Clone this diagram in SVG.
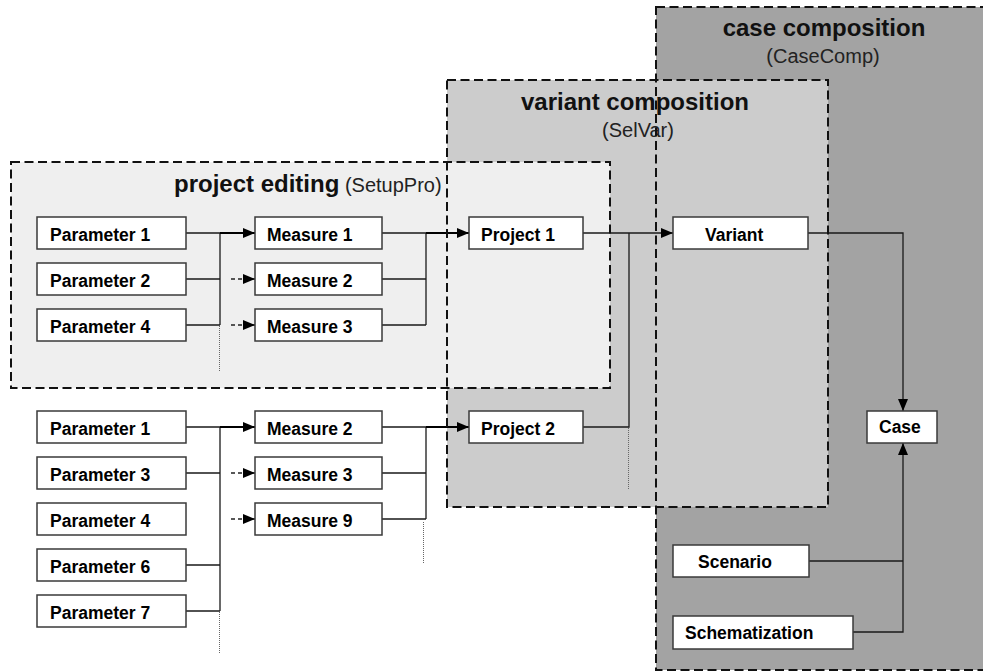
<svg xmlns="http://www.w3.org/2000/svg" width="983" height="671" viewBox="0 0 983 671">
  <defs>
    <style>
      .lbl { font-family: "Liberation Sans", Arial, sans-serif; font-weight: bold; font-size: 17.5px; fill: #000; }
      .title { font-family: "Liberation Sans", Arial, sans-serif; font-weight: bold; font-size: 24px; fill: #111; }
      .sub { font-family: "Liberation Sans", Arial, sans-serif; font-weight: normal; font-size: 20px; fill: #222; }
      .node rect { fill: #fff; stroke: #3a3a3a; stroke-width: 1.5; }
      .border { fill: none; stroke: #111; stroke-width: 2; stroke-dasharray: 9 4.5; }
      .wire { fill: none; stroke: #1a1a1a; stroke-width: 1.3; }
      .feed { fill: none; stroke: #000; stroke-width: 1.8; }
      .opt { fill: none; stroke: #222; stroke-width: 1.3; stroke-dasharray: 4 3; }
      .dot { fill: none; stroke: #666; stroke-width: 1; stroke-dasharray: 1 1; }
    </style>
    <marker id="arrow" viewBox="0 0 12 10" refX="12" refY="5" markerWidth="12" markerHeight="10" markerUnits="userSpaceOnUse" orient="auto">
      <path d="M0,0 L12,5 L0,10 Z" fill="#000"/>
    </marker>
  </defs>

  <!-- stage backgrounds, back to front -->
  <g id="stage-fills">
    <rect x="656" y="7" width="340" height="663" fill="#a3a3a3"/>
    <rect x="447" y="80" width="381" height="427" fill="#cccccc"/>
    <rect x="11" y="162" width="599" height="226" fill="#efefef"/>
  </g>

  <!-- stage titles -->
  <g id="stage-titles">
    <text class="title" x="824" y="36" text-anchor="middle">case composition</text>
    <text class="sub" x="823" y="63" text-anchor="middle">(CaseComp)</text>
    <text class="title" x="635" y="110" text-anchor="middle">variant composition</text>
    <text class="sub" x="638" y="137" text-anchor="middle">(SelVar)</text>
    <text x="174" y="192"><tspan class="title">project editing</tspan><tspan class="sub"> (SetupPro)</tspan></text>
  </g>

  <!-- connectors -->
  <g id="connectors">
    <!-- upper parameter set to measures -->
    <path class="wire" d="M186,233 H220 M186,279 H220 M186,325 H220 M220,233 V325"/>
    <path class="feed" d="M220,233 H255" marker-end="url(#arrow)"/>
    <path class="opt" d="M231,279 H255" marker-end="url(#arrow)"/>
    <path class="opt" d="M231,325 H255" marker-end="url(#arrow)"/>
    <path class="dot" d="M219.5,326 V371"/>
    <!-- upper measures to project 1 -->
    <path class="wire" d="M382,233 H426 M382,279 H426 M382,325 H426 M426,233 V325"/>
    <path class="feed" d="M426,233 H469" marker-end="url(#arrow)"/>

    <!-- lower parameter set to measures -->
    <path class="wire" d="M186,427 H220 M186,473 H220 M186,565 H220 M186,611 H220 M220,427 V611"/>
    <path class="feed" d="M220,427 H255" marker-end="url(#arrow)"/>
    <path class="opt" d="M231,473 H255" marker-end="url(#arrow)"/>
    <path class="opt" d="M231,519 H255" marker-end="url(#arrow)"/>
    <path class="dot" d="M219.5,612 V653"/>
    <!-- lower measures to project 2 -->
    <path class="wire" d="M382,427 H426 M382,473 H426 M382,519 H426 M426,427 V519"/>
    <path class="feed" d="M426,427 H469" marker-end="url(#arrow)"/>
    <path class="dot" d="M423.5,522 V563"/>

    <!-- projects to variant -->
    <path class="wire" d="M583,427 H629 V233"/>
    <path class="wire" d="M583,233 H673" marker-end="url(#arrow)"/>
    <path class="dot" d="M628.5,428 V489"/>

    <!-- inputs to case -->
    <path class="wire" d="M808,233 H903 V411" marker-end="url(#arrow)"/>
    <path class="wire" d="M809,561 H903"/>
    <path class="wire" d="M853,632 H903 V443" marker-end="url(#arrow)"/>
  </g>

  <!-- nodes -->
  <g id="param-a1" class="node"><rect x="37" y="217" width="149" height="32"/><text class="lbl" x="50" y="241">Parameter 1</text></g>
  <g id="param-a2" class="node"><rect x="37" y="263" width="149" height="32"/><text class="lbl" x="50" y="287">Parameter 2</text></g>
  <g id="param-a4" class="node"><rect x="37" y="309" width="149" height="32"/><text class="lbl" x="50" y="333">Parameter 4</text></g>

  <g id="measure-a1" class="node"><rect x="255" y="217" width="127" height="32"/><text class="lbl" x="267" y="241">Measure 1</text></g>
  <g id="measure-a2" class="node"><rect x="255" y="263" width="127" height="32"/><text class="lbl" x="267" y="287">Measure 2</text></g>
  <g id="measure-a3" class="node"><rect x="255" y="309" width="127" height="32"/><text class="lbl" x="267" y="333">Measure 3</text></g>

  <g id="param-b1" class="node"><rect x="37" y="411" width="149" height="32"/><text class="lbl" x="50" y="435">Parameter 1</text></g>
  <g id="param-b3" class="node"><rect x="37" y="457" width="149" height="32"/><text class="lbl" x="50" y="481">Parameter 3</text></g>
  <g id="param-b4" class="node"><rect x="37" y="503" width="149" height="32"/><text class="lbl" x="50" y="527">Parameter 4</text></g>
  <g id="param-b6" class="node"><rect x="37" y="549" width="149" height="32"/><text class="lbl" x="50" y="573">Parameter 6</text></g>
  <g id="param-b7" class="node"><rect x="37" y="595" width="149" height="32"/><text class="lbl" x="50" y="619">Parameter 7</text></g>

  <g id="measure-b2" class="node"><rect x="255" y="411" width="127" height="32"/><text class="lbl" x="267" y="435">Measure 2</text></g>
  <g id="measure-b3" class="node"><rect x="255" y="457" width="127" height="32"/><text class="lbl" x="267" y="481">Measure 3</text></g>
  <g id="measure-b9" class="node"><rect x="255" y="503" width="127" height="32"/><text class="lbl" x="267" y="527">Measure 9</text></g>

  <g id="project-1" class="node"><rect x="469" y="217" width="114" height="32"/><text class="lbl" x="481" y="241">Project 1</text></g>
  <g id="project-2" class="node"><rect x="469" y="411" width="114" height="32"/><text class="lbl" x="481" y="435">Project 2</text></g>

  <g id="variant" class="node"><rect x="673" y="217" width="135" height="32"/><text class="lbl" x="705" y="241">Variant</text></g>
  <g id="case" class="node"><rect x="867" y="411" width="70" height="32"/><text class="lbl" x="879" y="433">Case</text></g>
  <g id="scenario" class="node"><rect x="673" y="545" width="136" height="32"/><text class="lbl" x="698" y="568">Scenario</text></g>
  <g id="schematization" class="node"><rect x="673" y="616" width="180" height="33"/><text class="lbl" x="685" y="639">Schematization</text></g>

  <!-- stage outlines drawn over everything -->
  <g id="stage-borders">
    <rect class="border" x="656" y="7" width="340" height="663"/>
    <rect class="border" x="447" y="80" width="381" height="427"/>
    <rect class="border" x="11" y="162" width="599" height="226"/>
  </g>
</svg>
